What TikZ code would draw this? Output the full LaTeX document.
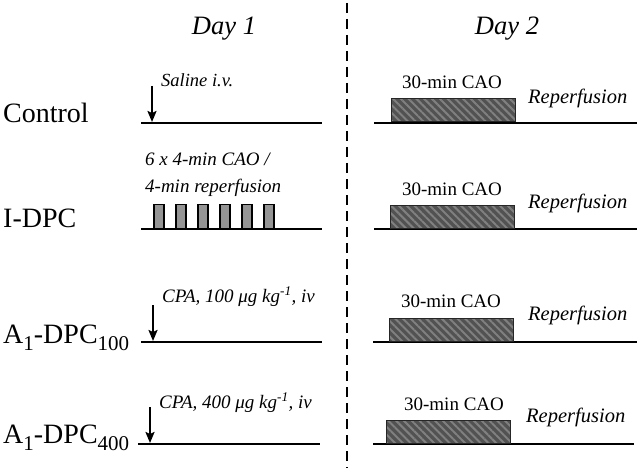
\documentclass[tikz,border=0pt]{standalone}
\usepackage{fontspec}
\setmainfont{Liberation Serif}
\usetikzlibrary{arrows.meta,patterns.meta}
\begin{document}
\begin{tikzpicture}[x=1pt,y=-1pt,
 tl/.style={line width=2.8pt},
 inj/.style={line width=2pt,-{Stealth[length=11pt,width=9pt,inset=2pt]}},
 cao/.style={draw=black!85,line width=1pt,preaction={fill=black!68},
   pattern={Lines[angle=-45,distance=5.5pt,line width=2pt]},pattern color=black!50,
   minimum width=124pt,minimum height=23pt,anchor=south west,inner sep=0pt},
 pulse/.style={draw=black,line width=1.5pt,fill=black!42,minimum width=10pt,
   minimum height=24pt,anchor=south west,inner sep=0pt},
 grp/.style={font=\fontsize{28}{30}\selectfont,anchor=base west,inner sep=0pt},
 note/.style={font=\fontsize{19}{21}\selectfont\itshape,anchor=base west,inner sep=0pt},
 caolab/.style={font=\fontsize{19}{21}\selectfont,anchor=base,inner sep=0pt},
 rep/.style={font=\fontsize{20.5}{22}\selectfont\itshape,anchor=base west,inner sep=0pt},
 day/.style={font=\fontsize{26.5}{28}\selectfont\itshape,anchor=base,inner sep=0pt}]
\useasboundingbox (0,0) rectangle (640,468);
\newcommand{\sbx}[1]{\raisebox{-0.28em}{\fontsize{21}{21}\selectfont #1}}

% titles and divider
\node[day] (d1) at (224,35) {Day 1};
\node[day] (d2) at (507,35) {Day 2};
\coordinate (dvt) at (347,3);
\coordinate (dvb) at (347,468);
\draw[line width=2.8pt,dash pattern=on 10pt off 6pt] (dvt) -- (dvb);

% row labels
\node[grp] (g1) at (3,123) {Control};
\node[grp] (g2) at (3,227) {I-DPC};
\node[grp] (g3) at (3,343) {A\sbx{1}-DPC\sbx{100}};
\node[grp] (g4) at (3,443) {A\sbx{1}-DPC\sbx{400}};

% Day 1 time lines
\coordinate (a1) at (141,123); \coordinate (b1) at (322,123);
\coordinate (a2) at (141,229); \coordinate (b2) at (322,229);
\coordinate (a3) at (141,342); \coordinate (b3) at (322,342);
\coordinate (a4) at (138,444); \coordinate (b4) at (320,444);
\draw[tl] (a1) -- (b1);
\draw[tl] (a2) -- (b2);
\draw[tl] (a3) -- (b3);
\draw[tl] (a4) -- (b4);

% injections
\coordinate (i1t) at (152,86);  \coordinate (i1b) at (152,122);
\coordinate (i3t) at (153,305); \coordinate (i3b) at (153,341);
\coordinate (i4t) at (150,407); \coordinate (i4b) at (150,443);
\draw[inj] (i1t) -- (i1b);
\draw[inj] (i3t) -- (i3b);
\draw[inj] (i4t) -- (i4b);
\node[note,font=\fontsize{18.5}{20}\selectfont\itshape] (n1) at (161,87) {Saline i.v.};
\node[note] (n3) at (162,302) {CPA, 100 μg kg\textsuperscript{-1}, iv};
\node[note] (n4) at (159,408) {CPA, 400 μg kg\textsuperscript{-1}, iv};

% I-DPC pulses
\node[note] (n2a) at (145,166) {6 x 4-min CAO /};
\node[note] (n2b) at (145,193) {4-min reperfusion};
\foreach \k/\xx in {1/153,2/175,3/197,4/219,5/241,6/263}
  \node[pulse] (p\k) at (\xx,229) {};

% Day 2 time lines
\coordinate (c1) at (374,123); \coordinate (e1) at (637,123);
\coordinate (c2) at (374,229); \coordinate (e2) at (637,229);
\coordinate (c3) at (373,342); \coordinate (e3) at (637,342);
\coordinate (c4) at (373,444); \coordinate (e4) at (634,444);
\draw[tl] (c1) -- (e1);
\draw[tl] (c2) -- (e2);
\draw[tl] (c3) -- (e3);
\draw[tl] (c4) -- (e4);

\node[cao] (o1) at (390,123) {};
\node[cao] (o2) at (390,229) {};
\node[cao] (o3) at (389,342) {};
\node[cao] (o4) at (386,444) {};
\node[caolab] (l1) at (452,89) {30-min CAO};
\node[caolab] (l2) at (452,195) {30-min CAO};
\node[caolab] (l3) at (451,307) {30-min CAO};
\node[caolab] (l4) at (454,410) {30-min CAO};
\node[rep] (r1) at (528,104) {Reperfusion};
\node[rep] (r2) at (528,208) {Reperfusion};
\node[rep] (r3) at (528,320) {Reperfusion};
\node[rep] (r4) at (526,422) {Reperfusion};
\end{tikzpicture}
\end{document}
